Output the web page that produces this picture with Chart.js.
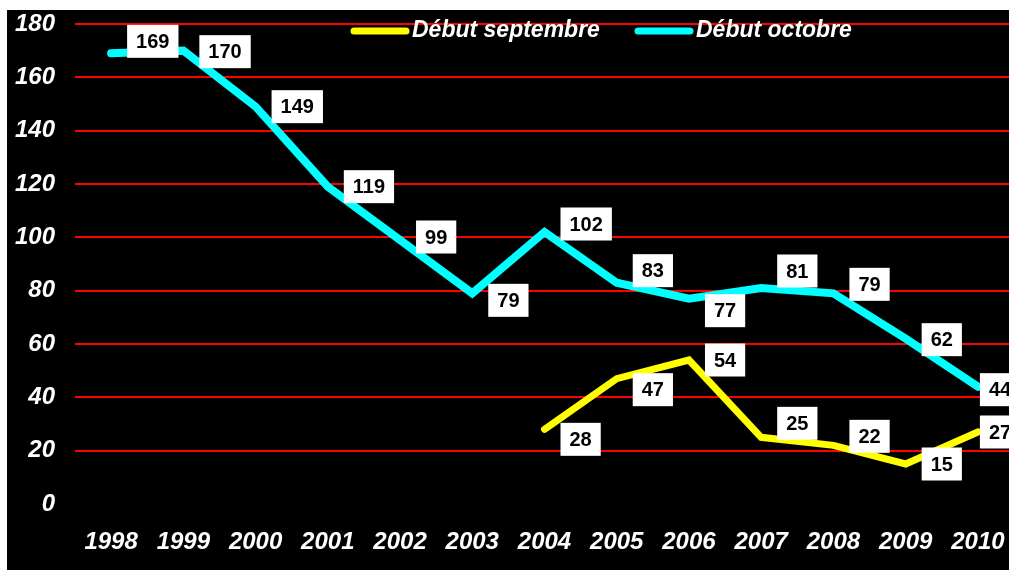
<!DOCTYPE html>
<html>
<head>
<meta charset="utf-8">
<script src="https://cdn.jsdelivr.net/npm/chart.js@4/dist/chart.umd.min.js"></script>
<style>
  html, body { margin: 0; padding: 0; background: #fff; overflow: hidden; }
  #wrap { position: absolute; left: 7px; top: 10px; width: 1002px; height: 560px; background: #000; overflow: hidden; }
  canvas { display: block; }
</style>
</head>
<body>
<div id="wrap"><canvas id="grafico" width="1012" height="560"></canvas></div>
<script>
const annees = ["1998", "1999", "2000", "2001", "2002", "2003", "2004", "2005", "2006", "2007", "2008", "2009", "2010"];
const debutSeptembre = [null, null, null, null, null, null, 28, 47, 54, 25, 22, 15, 27];
const debutOctobre = [169, 170, 149, 119, 99, 79, 102, 83, 77, 81, 79, 62, 44];
const ticksY = [0, 20, 40, 60, 80, 100, 120, 140, 160, 180];

// petits décalages verticaux des étiquettes (comme dans Excel)
const decalages = {
  0: [0, 0, 0, 0, 0, 0, 10, 11, 0, -14, -9, 0, 0],
  1: [-12, 1, 0, 0, -3, 7, -8, -12, 12, -17, -9, 1, 3]
};

const etiquettes = {
  id: 'etiquettes',
  afterDatasetsDraw(chart) {
    const ctx = chart.ctx;
    ctx.save();
    ctx.font = 'bold 20px "Liberation Sans", Arial, sans-serif';
    ctx.textAlign = 'center';
    ctx.textBaseline = 'middle';
    chart.data.datasets.forEach((ds, i) => {
      const pts = chart.getDatasetMeta(i).data;
      pts.forEach((pt, j) => {
        const v = ds.data[j];
        if (v === null) return;
        const txt = String(v);
        const w = ctx.measureText(txt).width + 18;
        const h = 33;
        // la dernière étiquette est collée au point (bord du graphique)
        const x = j === pts.length - 1 ? pt.x + 2 : pt.x + 16;
        const y = pt.y + decalages[i][j];
        ctx.fillStyle = '#fff';
        ctx.fillRect(x, y - h / 2, w, h);
        ctx.fillStyle = '#000';
        ctx.fillText(txt, x + w / 2, y + 1);
      });
    });
    ctx.restore();
  }
};

const legende = {
  id: 'legende',
  afterDraw(chart) {
    const ctx = chart.ctx;
    ctx.save();
    ctx.font = 'italic bold 23px "Liberation Sans", Arial, sans-serif';
    ctx.textBaseline = 'middle';
    ctx.lineCap = 'round';
    const items = [{ x: 347, ds: chart.data.datasets[0] }, { x: 631, ds: chart.data.datasets[1] }];
    items.forEach(it => {
      ctx.strokeStyle = it.ds.borderColor;
      ctx.lineWidth = 7;
      ctx.beginPath();
      ctx.moveTo(it.x, 21);
      ctx.lineTo(it.x + 52, 21);
      ctx.stroke();
      ctx.fillStyle = '#fff';
      ctx.fillText(it.ds.label, it.x + 58, 21);
    });
    ctx.restore();
  }
};

const ctx = document.getElementById('grafico').getContext('2d');
new Chart(ctx, {
  type: 'line',
  data: {
    labels: annees,
    datasets: [{
      label: 'Début septembre',
      data: debutSeptembre,
      borderColor: '#ffff00',
      borderWidth: 7,
      borderCapStyle: 'round',
      borderJoinStyle: 'miter',
      pointRadius: 0,
      tension: 0,
      fill: false
    }, {
      label: 'Début octobre',
      data: debutOctobre,
      borderColor: '#00ffff',
      borderWidth: 8,
      borderCapStyle: 'round',
      borderJoinStyle: 'miter',
      pointRadius: 0,
      tension: 0,
      fill: false
    }]
  },
  options: {
    responsive: false,
    animation: false,
    devicePixelRatio: 1,
    layout: { padding: { top: 14, right: 5, left: 0, bottom: 0 } },
    plugins: {
      legend: { display: false },
      tooltip: { enabled: false }
    },
    scales: {
      x: {
        offset: true,
        grid: { display: false },
        border: { display: false },
        ticks: {
          color: '#fff',
          font: { family: '"Liberation Sans", Arial, sans-serif', size: 24, style: 'italic', weight: 'bold' },
          padding: 16,
          maxRotation: 0,
          autoSkip: false
        },
        afterFit(scale) { scale.height = 66; scale.paddingLeft = 0; scale.paddingRight = 0; }
      },
      y: {
        min: 0,
        max: 180,
        afterBuildTicks(scale) { scale.ticks = ticksY.map(v => ({ value: v })); },
        grid: {
          color: c => c.tick && c.tick.value === 0 ? 'rgba(0,0,0,0)' : '#ff0000',
          lineWidth: 2,
          drawTicks: false
        },
        border: { display: false },
        ticks: {
          color: '#fff',
          font: { family: '"Liberation Sans", Arial, sans-serif', size: 24, style: 'italic', weight: 'bold' },
          padding: 20
        },
        afterFit(scale) { scale.width = 68; scale.paddingTop = 0; scale.paddingBottom = 0; }
      }
    }
  },
  plugins: [etiquettes, legende]
});
</script>
</body>
</html>
